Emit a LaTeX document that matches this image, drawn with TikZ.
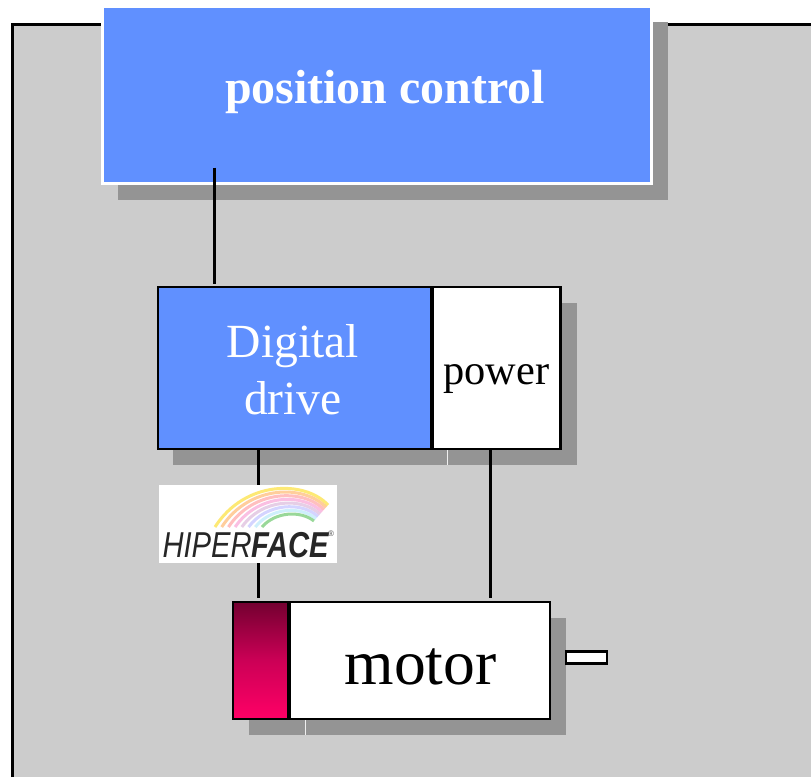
\documentclass[tikz,border=0pt]{standalone}
\usepackage{fontspec}
\setmainfont{Liberation Serif}
\newfontfamily\logofont{Liberation Sans}
\definecolor{panelgray}{HTML}{CCCCCC}
\definecolor{shadowgray}{HTML}{949494}
\definecolor{driveblue}{HTML}{6090FF}
\definecolor{encodertop}{HTML}{730030}
\definecolor{encodermid}{HTML}{CC0056}
\definecolor{encoderbot}{HTML}{FF0066}
\tikzset{
	box/.style={draw=black,line width=2.8pt,rectangle,inner sep=0pt,outer sep=0pt},
	wire/.style={line width=3pt},
}
\begin{document}
\begin{tikzpicture}[x=1pt,y=-1pt]

\useasboundingbox (0,0) rectangle (811,777);

\fill[color=panelgray] (12,24) rectangle (811,777);
\draw[line width=3pt] (12,777)--(12,24)--(811,24);

% shadows
\fill[color=shadowgray] (118,22) rectangle (668,200);
\fill[color=shadowgray] (173,303) rectangle (577,465);
\fill[color=shadowgray] (249,618) rectangle (566,735);
\draw[color=white!85!shadowgray,line width=0.7pt] (447.5,450)--(447.5,465);
\draw[color=white!85!shadowgray,line width=0.7pt] (305.5,720)--(305.5,735);

\node[box,draw=white,fill=driveblue,text=white,minimum width=549,minimum height=177,text height=16pt,text depth=0pt,font=\fontsize{47.9}{50}\selectfont\bfseries] (poscontrol) at (377,95) {\hspace*{16pt}position control};

\node[box,fill=driveblue,minimum width=274,minimum height=162] (drive) at (295,368) {};
\node[text=white,inner sep=0pt,align=center,font=\fontsize{47.6}{57}\selectfont] (drivelabel) at (293,370) {Digital\\drive};
\node[box,fill=white,minimum width=128.5,minimum height=162,text height=32pt,text depth=0pt,font=\fontsize{42.4}{45}\selectfont] (power) at (496.25,368) {power};
\draw[line width=4.5pt] (drive.north east) -- (drive.south east);

\node[fill=white,inner sep=0pt,minimum width=178,minimum height=78] (logo) at (248,524) {};
\foreach \i/\c in {0/yellow!75!orange,1/orange!70,2/red!45,3/magenta!45,4/violet!35,5/blue!30,6/cyan!35,7/green!45!gray}{
	\pgfmathsetmacro{\t}{\i/7}
	\draw[color=\c,line width=3pt,opacity=0.55] ({215+47*\t},{527}) .. controls ({245+30*\t},{480+32*\t}) and ({305-5*\t},{480+30*\t}) .. ({328-14*\t},{505+16*\t});
}
\node[inner sep=0pt,text=black!85,font=\logofont\itshape\fontsize{36}{36}\selectfont] (logotext) at (246,545) {\scalebox{0.81}[1]{HIPER\textbf{FACE}}};
\node[inner sep=0pt,text=black!70,font=\logofont\fontsize{8}{8}\selectfont] (logomark) at (331,534) {®};

\node[box,top color=encodertop,bottom color=encoderbot,middle color=encodermid,minimum width=56,minimum height=117] (encoder) at (261,660.5) {};
\node[box,fill=white,minimum width=261,minimum height=117,text height=47pt,text depth=0pt,font=\fontsize{63.6}{66}\selectfont] (motor) at (419.5,660.5) {\hspace*{2pt}motor};
\draw[line width=4.5pt] (encoder.north east) -- (encoder.south east);
\node[box,fill=white,minimum width=41,minimum height=12] (shaft) at (586.5,657.5) {};

% connectors
\coordinate (tapcontrol) at (214,0);
\coordinate (tapencoder) at (258,0);
\coordinate (tappower) at (490,0);
\draw[wire,shorten <=-16pt,shorten >=3pt] (poscontrol.south -| tapcontrol) -- (drive.north -| tapcontrol);
\draw[wire] (drive.south -| tapencoder) -- (logo.north -| tapencoder);
\draw[wire,shorten >=4pt] (logo.south -| tapencoder) -- (encoder.north -| tapencoder);
\draw[wire,shorten >=4pt] (power.south -| tappower) -- (motor.north -| tappower);

\end{tikzpicture}
\end{document}
